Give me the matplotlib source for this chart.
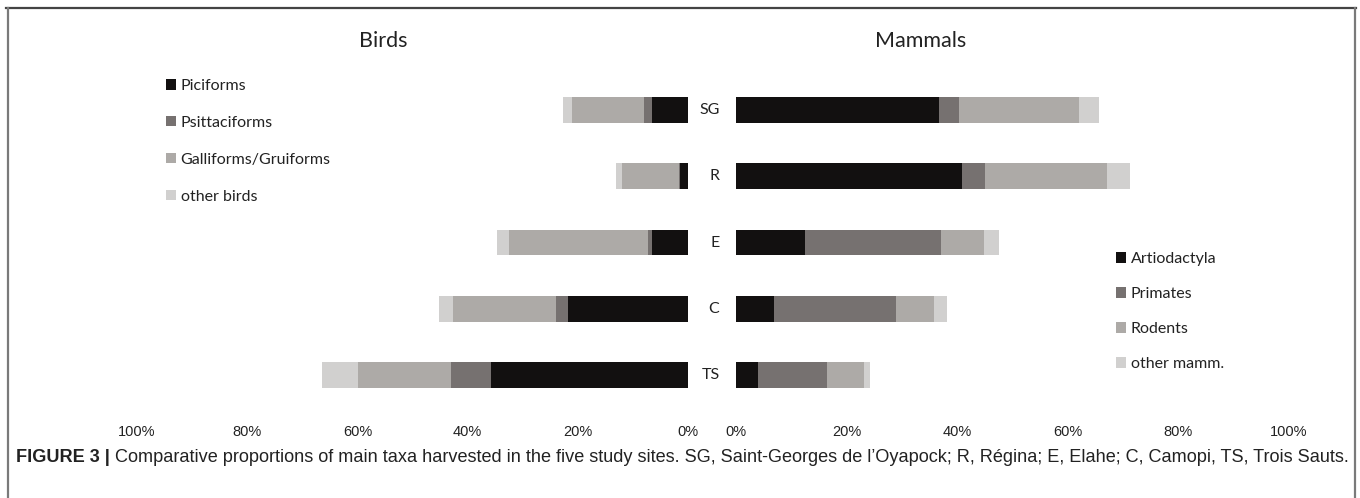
import matplotlib
matplotlib.use("Agg")
import matplotlib.pyplot as plt
from matplotlib.lines import Line2D
import numpy as np

sites = ["SG", "R", "E", "C", "TS"]

bird_groups = ["Piciforms", "Psittaciforms", "Galliforms/Gruiforms", "other birds"]
piciforms = [6.6, 1.4, 6.5, 21.7, 35.8]
psittaciforms = [1.3, 0.2, 0.7, 2.2, 7.3]
galliforms = [13.2, 10.3, 25.2, 18.8, 16.8]
other_birds = [1.5, 1.1, 2.2, 2.4, 6.5]

mammal_groups = ["Artiodactyla", "Primates", "Rodents", "other mamm."]
artiodactyla = [36.7, 40.8, 12.5, 6.8, 3.9]
primates = [3.6, 4.2, 24.5, 22.1, 12.6]
rodents = [21.8, 22.1, 7.9, 6.9, 6.6]
other_mamm = [3.5, 4.1, 2.6, 2.4, 1.2]

left_ticks = [100, 80, 60, 40, 20, 0]
right_ticks = [0, 20, 40, 60, 80, 100]

colors = ["#121010", "#767170", "#adaaa7", "#d1d0cf"]

W, H = 1360, 498
fig = plt.figure(figsize=(W / 100, H / 100), dpi=100)
fig.patch.set_facecolor("white")

def fx(px):
    return px / W

def fy(py):
    return 1 - py / H

ax_top, ax_bot = 77, 408
axL = fig.add_axes([fx(137), fy(ax_bot), fx(688 - 137), (ax_bot - ax_top) / H])
axR = fig.add_axes([fx(736), fy(ax_bot), fx(1289 - 736), (ax_bot - ax_top) / H])

ypos = np.arange(len(sites))
bh = 0.39

def stack(ax, series, labels):
    left = np.zeros(len(sites))
    for vals, lab, col in zip(series, labels, colors):
        ax.barh(ypos, vals, left=left, height=bh, color=col, label=lab, linewidth=0)
        left = left + np.array(vals)

stack(axL, [piciforms, psittaciforms, galliforms, other_birds], bird_groups)
stack(axR, [artiodactyla, primates, rodents, other_mamm], mammal_groups)

tick_font = dict(family=["Liberation Sans", "DejaVu Sans"], size=10.5)
for ax, ticks in ((axL, left_ticks), (axR, right_ticks)):
    ax.set_ylim(len(sites) - 0.5, -0.5)
    ax.set_xticks(ticks)
    ax.set_xticklabels([f"{t}%" for t in ticks], **tick_font, color="#222222")
    ax.tick_params(axis="x", length=0, pad=12)
    ax.set_yticks([])
    for s in ax.spines.values():
        s.set_visible(False)
    ax.set_facecolor("none")

axL.set_xlim(100, 0)
axR.set_xlim(0, 100)

lab_font = ["Lato", "DejaVu Sans"]
for i, s in enumerate(sites):
    axR.text(-3.0, i, s, ha="right", va="center", fontsize=11.5,
             family=lab_font, color="#222222")

fig.text(fx(383), fy(41), "Birds", ha="center", va="center", fontsize=15.5,
         family=lab_font, color="#222222")
fig.text(fx(921), fy(41), "Mammals", ha="center", va="center", fontsize=15.5,
         family=lab_font, color="#222222")

legL = axL.legend(loc="upper left", bbox_to_anchor=(fx(166), fy(79)),
                  bbox_transform=fig.transFigure, frameon=False,
                  prop=dict(family=lab_font, size=11.5), handlelength=0.62,
                  handleheight=0.62, handletextpad=0.3, labelspacing=1.43,
                  borderpad=0, borderaxespad=0)
legR = axR.legend(loc="upper left", bbox_to_anchor=(fx(1116), fy(252)),
                  bbox_transform=fig.transFigure, frameon=False,
                  prop=dict(family=lab_font, size=11.5), handlelength=0.62,
                  handleheight=0.62, handletextpad=0.3, labelspacing=1.32,
                  borderpad=0, borderaxespad=0)
for leg in (legL, legR):
    for t in leg.get_texts():
        t.set_color("#222222")

# border
fig.add_artist(Line2D([fx(6), fx(1356)], [fy(8), fy(8)], color="#444444", lw=1.6))
fig.add_artist(Line2D([fx(7.5), fx(7.5)], [fy(8), 0], color="#7a7a7a", lw=1.6))
fig.add_artist(Line2D([fx(1355), fx(1355)], [fy(8), 0], color="#7a7a7a", lw=1.6))

cap_font = ["Liberation Sans", "DejaVu Sans"]
cap_size = 13.1
t1 = fig.text(fx(16), fy(457), "FIGURE 3 | ", ha="left", va="center", fontsize=cap_size,
              family=cap_font, weight="bold", color="#222222")
fig.canvas.draw()
r = fig.canvas.get_renderer()
bb = t1.get_window_extent(r)
fig.text(bb.x1 / W, fy(457),
         "Comparative proportions of main taxa harvested in the five study sites. "
         "SG, Saint-Georges de l\u2019Oyapock; R, R\u00e9gina; E, Elahe; C, Camopi, TS, Trois Sauts.",
         ha="left", va="center", fontsize=cap_size, family=cap_font, color="#222222")

fig.savefig("out.png", dpi=100, facecolor="white")
